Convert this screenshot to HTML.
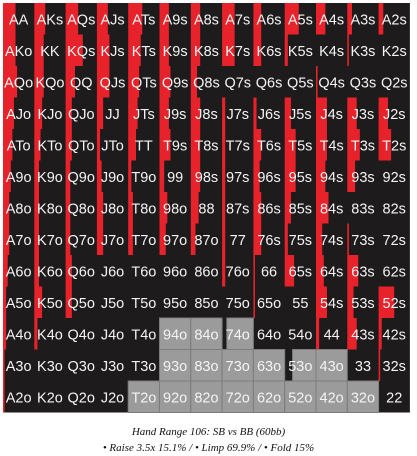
<!DOCTYPE html>
<html><head><meta charset="utf-8"><style>
body{margin:0;background:#fff;width:417px;height:456px;overflow:hidden;font-family:"Liberation Sans",sans-serif}
.cap{position:absolute;left:0;width:417px;text-align:center;font-family:"Liberation Serif",serif;font-style:italic;font-size:11px;color:#111}
</style></head><body>
<svg id="chart" width="417" height="420" style="position:absolute;left:0;top:0"></svg>
<div class="cap" style="top:426px">Hand Range 106: SB vs BB (60bb)</div>
<div class="cap" style="top:442px">• Raise 3.5x 15.1% / • Limp 69.9% / • Fold 15%</div>
<script>
const ranks = ["A","K","Q","J","T","9","8","7","6","5","4","3","2"];
const raise = [
[0.4,0.35,0.4,0.35,0.45,0.3,0.3,0.4,0.25,0.45,0.3,0.15,0.15],
[0.4,0.3,0.55,0.4,0.4,0.3,0.3,0.4,0.25,0.1,0,0.05,0],
[0.45,0.3,0.3,0.4,0.35,0.35,0.2,0,0,0,0.05,0,0],
[0.35,0.25,0.2,0.2,0.3,0.3,0.3,0.1,0.1,0.2,0.35,0.3,0.3],
[0.3,0.2,0.2,0.1,0.25,0.35,0.3,0.1,0.25,0.35,0.35,0.4,0.4],
[0.25,0.15,0.15,0.15,0.1,0.15,0.3,0.1,0.2,0.35,0.3,0.25,0],
[0.2,0.15,0.15,0.2,0.15,0.25,0.25,0.1,0.25,0.2,0.4,0,0],
[0.2,0.15,0.15,0.2,0.15,0.2,0.15,0.1,0.25,0.1,0.2,0.05,0],
[0.15,0.15,0.2,0,0,0,0,0.1,0.05,0.3,0.25,0.35,0],
[0.1,0.25,0.2,0,0,0,0,0,0.05,0,0.35,0.2,0.5],
[0.1,0.1,0,0,0,0,0,0,0,0,0.1,0.3,0.1],
[0.05,0,0,0,0,0,0,0,0,0,0,0,0.05],
[0.05,0,0,0,0,0,0,0,0,0,0,0,0]
];
const fold = [
[0,0,0,0,0,0,0,0,0,0,0,0,0],
[0,0,0,0,0,0,0,0,0,0,0,0,0],
[0,0,0,0,0,0,0,0,0,0,0,0,0],
[0,0,0,0,0,0,0,0,0,0,0,0,0],
[0,0,0,0,0,0,0,0,0,0,0,0,0],
[0,0,0,0,0,0,0,0,0,0,0,0,0],
[0,0,0,0,0,0,0,0,0,0,0,0,0],
[0,0,0,0,0,0,0,0,0,0,0,0,0],
[0,0,0,0,0,0,0,0,0,0,0,0,0],
[0,0,0,0,0,0,0,0,0,0,0,0,0],
[0,0,0,0,0,1,1,0.85,0,0,0,0,0],
[0,0,0,0,0,1,1,1,1,0.75,1,0,0],
[0,0,0,0,1,1,1,1,1,1,1,1,0]
];
const NS="http://www.w3.org/2000/svg";
const svg=document.getElementById("chart");
const X0=3,Y0=3,CW=31.3,CH=31.5;
const cx=c=>X0+c*CW, cy=r=>Y0+r*CH;
function mk(t,a){const e=document.createElementNS(NS,t);for(const k in a)e.setAttribute(k,a[k]);svg.appendChild(e);return e;}
const bg=mk("rect",{x:X0,y:Y0,width:13*CW,height:13*CH,fill:"#1d1b1c"});


for(let r=0;r<13;r++)for(let c=0;c<13;c++){
  const lbl=r===c?ranks[r]+ranks[c]:(c>r?ranks[r]+ranks[c]+"s":ranks[c]+ranks[r]+"o");
  const x=cx(c),y=cy(r);
  const f=fold[r][c];
  if(f>0){
    const g=mk("rect",{x:x+CW*(1-f),y:y,width:CW*f,height:CH,fill:"#9b9b9b",stroke:"#7c7c7c","stroke-width":1});
    
    
  }
  const rv=raise[r][c];
  if(rv>0){
    const b=mk("rect",{x:x,y:y,width:CW*rv,height:CH,fill:"#e8222a"});
    
    
  }
  const t=mk("text",{x:x+CW/2,y:y+CH/2+5.5,"text-anchor":"middle","font-size":"14.5",fill:"#f4f4f4","font-family":"Liberation Sans, sans-serif"});
  t.textContent=lbl;
  
  
}
</script>
</body></html>
